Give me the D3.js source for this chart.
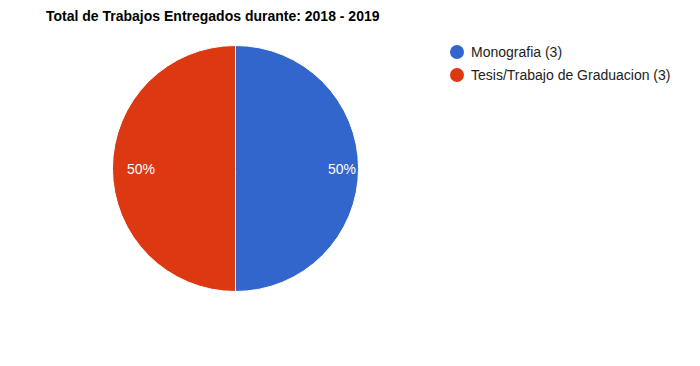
<!DOCTYPE html>
<html><head><meta charset="utf-8">
<script src="https://cdn.jsdelivr.net/npm/d3@7"></script>
<style>body{margin:0;background:#fff;}svg{display:block;font-family:Arial,"Liberation Sans",sans-serif;}</style>
</head><body>
<script>
const title = "Total de Trabajos Entregados durante: 2018 - 2019";
const categories = ["Monografia", "Tesis/Trabajo de Graduacion"];
const values = [3, 3];
const colors = ["#3366cc", "#dc3912"];

const W = 700, H = 366;
const svg = d3.select("body").append("svg").attr("width", W).attr("height", H);
svg.append("rect").attr("width", W).attr("height", H).attr("fill", "#fff");

svg.append("text").attr("x", 46).attr("y", 21).attr("font-size", 14).attr("font-weight", "bold")
  .attr("fill", "#000").text(title);

const cx = 235.5, cy = 168.5, r = 123;
const pie = d3.pie().sort(null).value(d => d)(values);
const arc = d3.arc().innerRadius(0).outerRadius(r);
const g = svg.append("g").attr("transform", `translate(${cx},${cy})`);
g.selectAll("path").data(pie).join("path").attr("d", arc)
  .attr("fill", (d, i) => colors[i]).attr("stroke", "#fff").attr("stroke-width", 1);
const total = d3.sum(values);
const labelArc = d3.arc().innerRadius(r * 0.817).outerRadius(r * 0.817);
g.selectAll("text.lbl").data(pie).join("text").attr("class", "lbl")
  .attr("x", d => labelArc.centroid(d)[0] + 6).attr("y", d => labelArc.centroid(d)[1] + 5.5)
  .attr("text-anchor", "middle").attr("font-size", 14).attr("fill", "#fff")
  .text(d => Math.round(d.data / total * 100) + "%");

const leg = svg.append("g");
categories.forEach((c, i) => {
  const y = 52 + i * 23;
  leg.append("circle").attr("cx", 457).attr("cy", y).attr("r", 7).attr("fill", colors[i]);
  leg.append("text").attr("x", 471).attr("y", y + 5).attr("font-size", 14).attr("fill", "#222")
    .text(`${c} (${values[i]})`);
});
</script>
</body></html>
